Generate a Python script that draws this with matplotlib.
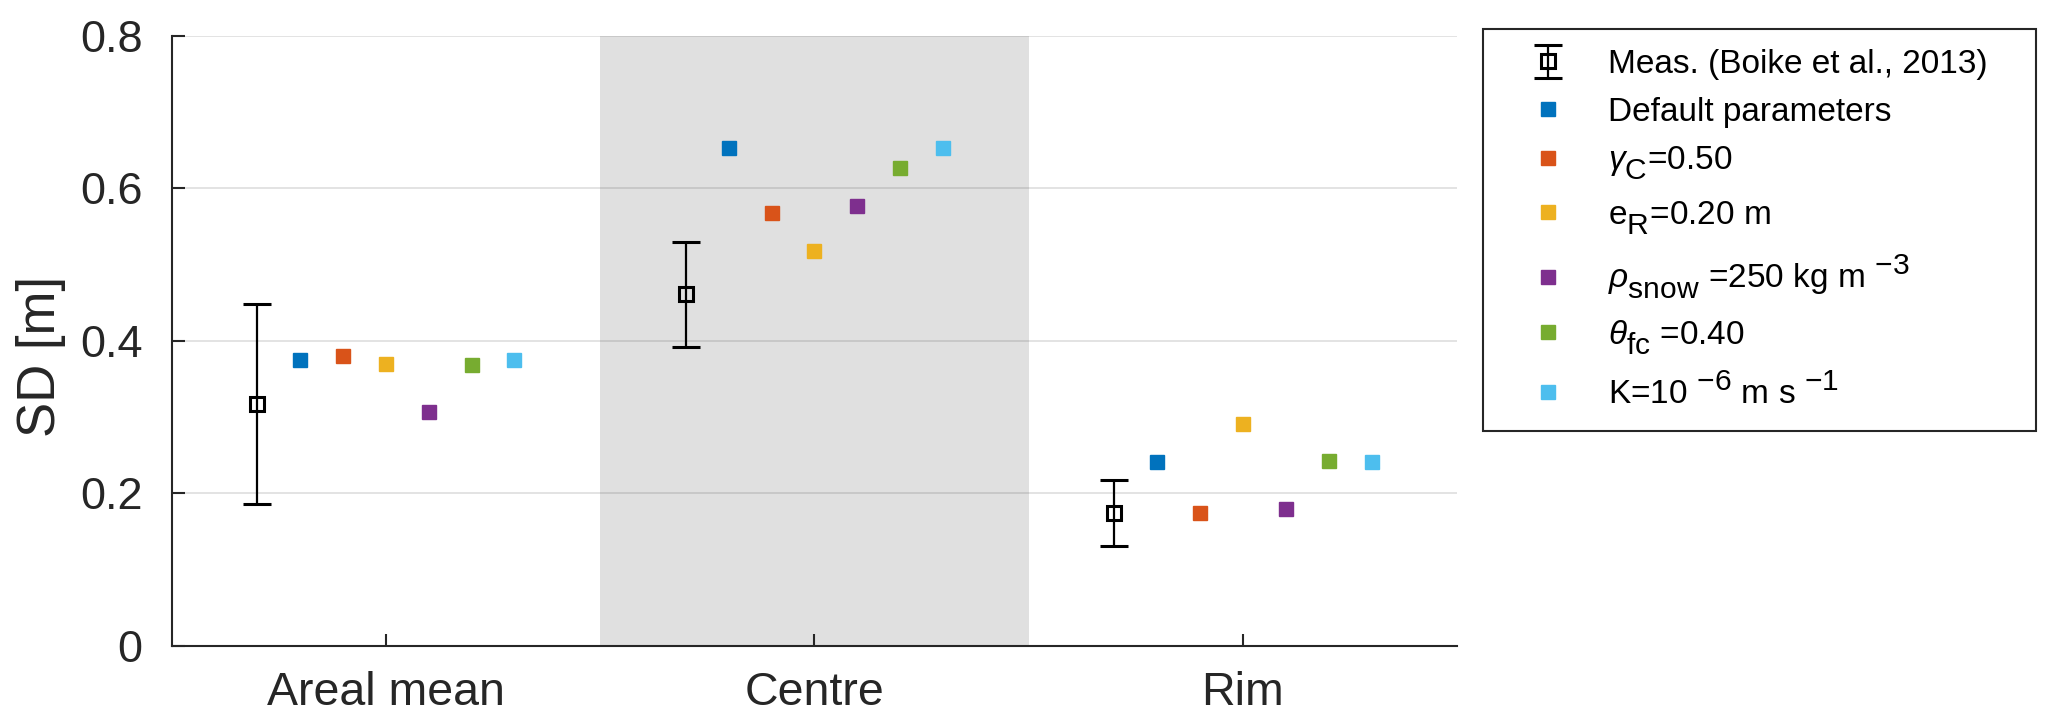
import matplotlib.pyplot as plt
import matplotlib._mathtext as mathtext_internal
import numpy as np

plt.rcParams['font.family'] = ['Liberation Sans', 'DejaVu Sans']
plt.rcParams['mathtext.fontset'] = 'custom'
plt.rcParams['mathtext.rm'] = 'Liberation Sans'
plt.rcParams['mathtext.it'] = 'Liberation Sans:italic'
plt.rcParams['mathtext.bf'] = 'Liberation Sans:bold'

# MATLAB-style sub/superscripts: nearly full size, set lower
mathtext_internal.SHRINK_FACTOR = 0.9
mathtext_internal.FontConstantsBase.sub1 = 0.6
mathtext_internal.FontConstantsBase.sub2 = 0.7

# categories
groups = ['Areal mean', 'Centre', 'Rim']

# measurements: mean with lower / upper bounds
meas_mean = [0.317, 0.461, 0.174]
meas_low = [0.186, 0.392, 0.131]
meas_high = [0.448, 0.530, 0.217]

# model runs
default_params = [0.375, 0.653, 0.241]
gamma_c = [0.380, 0.567, 0.174]
e_r = [0.369, 0.517, 0.291]
rho_snow = [0.307, 0.577, 0.179]
theta_fc = [0.368, 0.626, 0.243]
k_sat = [0.375, 0.653, 0.241]

series = [default_params, gamma_c, e_r, rho_snow, theta_fc, k_sat]
labels = ['Default parameters',
          r'$\gamma_{\rm C}$=0.50',
          r'e$_{\rm R}$=0.20 m',
          r'$\rho_{\rm snow}$ =250 kg m $^{-3}$',
          r'$\theta_{\rm fc}$ =0.40',
          r'K=10 $^{-6}$ m s $^{-1}$']
colors = ['#0072BD', '#D95319', '#EDB120', '#7E2F8E', '#77AC30', '#4DBEEE']

txt = '#262626'

fig = plt.figure(figsize=(20.67, 7.25), dpi=100)
ax = fig.add_axes([0.083, 0.109, 0.622, 0.842])

x = np.arange(1, len(groups) + 1)

# shaded centre column
ax.axvspan(1.5, 2.5, color='#e0e0e0', zorder=0, lw=0)

yerr = [np.array(meas_mean) - np.array(meas_low),
        np.array(meas_high) - np.array(meas_mean)]
meas = ax.errorbar(x - 0.3, meas_mean, yerr=yerr, fmt='s', mfc='none', mec='k',
                   mew=2.2, ms=10, ecolor='k', elinewidth=1.6, capsize=10,
                   capthick=2.5, zorder=4, label='Meas. (Boike et al., 2013)')

handles = [meas]
for i, (vals, lab, c) in enumerate(zip(series, labels, colors)):
    h, = ax.plot(x - 0.2 + 0.1 * i, vals, 's', color=c, mec=c, ms=10,
                 ls='none', zorder=3, label=lab)
    handles.append(h)

ax.set_xlim(0.5, 3.5)
ax.set_ylim(0, 0.8)
ax.set_xticks(x)
ax.set_xticklabels(groups, fontsize=33.5)
ax.set_yticks([0, 0.2, 0.4, 0.6, 0.8])
ax.set_yticklabels(['0', '0.2', '0.4', '0.6', '0.8'], fontsize=32.5)
ax.set_ylabel('SD [m]', fontsize=38, color=txt)
ax.yaxis.set_label_coords(-0.082, 0.475)

ax.yaxis.grid(True, color=txt, alpha=0.15, lw=1.2, zorder=1)
ax.set_axisbelow(False)
for s in ['top', 'right']:
    ax.spines[s].set_visible(False)
for s in ['left', 'bottom']:
    ax.spines[s].set_color(txt)
    ax.spines[s].set_linewidth(1.5)
ax.tick_params(direction='in', length=9, width=1.5, colors=txt)
ax.tick_params(axis='x', pad=18)
ax.tick_params(axis='y', pad=21)

leg = fig.legend(handles=handles, loc='upper left',
                 bbox_to_anchor=(0.7175, 0.405, 0.2675, 0.555),
                 mode='expand', fontsize=24, frameon=True, fancybox=False,
                 edgecolor=txt, framealpha=1, borderpad=0.6,
                 handlelength=2.7, handletextpad=0.45, labelspacing=0.5,
                 borderaxespad=0)
leg.get_frame().set_linewidth(1.5)

fig.savefig('out.png', dpi=100)
